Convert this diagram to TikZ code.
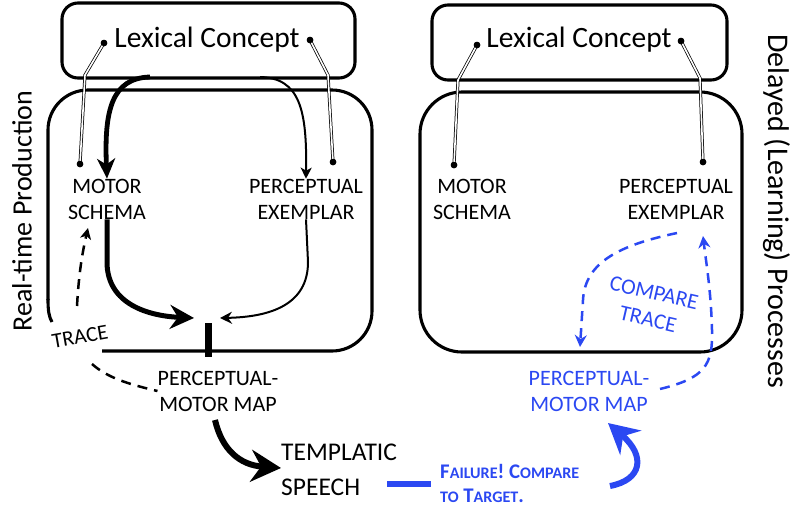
\documentclass[tikz,border=0pt]{standalone}
\usepackage{fontspec}
\setmainfont{Carlito}
\usetikzlibrary{arrows.meta}
\definecolor{myblue}{RGB}{43,72,242}
\newcommand\fakesc[1]{{\fontsize{16.1}{16.1}\selectfont #1}}
\tikzset{
  frame/.style={line width=3.1pt},
  dot/.style={circle,fill=black,inner sep=0pt,minimum size=6.5pt},
  dbl/.style={double,double distance=1.6pt,line width=0.75pt},
  lbl/.style={font=\fontsize{22}{26}\selectfont,align=center,inner sep=0pt},
  big/.style={font=\fontsize{29.5}{31}\selectfont,inner sep=0pt},
  dsh/.style={line width=2.5pt,dash pattern=on 10pt off 7pt},
}
\begin{document}
\begin{tikzpicture}[x=1pt,y=-1pt]
\useasboundingbox (0,0) rectangle (792,507);
% frames
\draw[frame,rounded corners=16pt] (62,3) rectangle (355,78);
\draw[frame,rounded corners=40pt] (102,351) -| (372,90) -| (48,300);
\draw[frame] (48,299) .. controls (48,311) and (49,317) .. (52,322);
\draw[frame,rounded corners=16pt] (432,5) rectangle (727,80);
\draw[frame,rounded corners=42pt] (420,92) rectangle (742,352);
% side labels
\node[big,rotate=90,font=\fontsize{28}{30}\selectfont] (rtp) at (22,211) {Real-time Production};
\node[big,rotate=-90,font=\fontsize{30}{32}\selectfont] (dlp) at (777,211) {Delayed (Learning) Processes};
% left texts
\node[big] (lc1) at (207,40) {Lexical Concept};
\node[lbl] (ms1) at (107,199) {MOTOR\\SCHEMA};
\node[lbl] (pe1) at (306,199) {PERCEPTUAL\\EXEMPLAR};
\node[lbl] (pm1) at (218,391) {PERCEPTUAL-\\MOTOR MAP};
\node[lbl,rotate=10,font=\fontsize{21.5}{24}\selectfont] (tr1) at (80,337) {TRACE};
\node[font=\fontsize{25.5}{35}\selectfont,align=left,anchor=west,inner sep=0pt] (ts) at (281,470) {TEMPLATIC\\SPEECH};
% right texts
\node[big] (lc2) at (579,40) {Lexical Concept};
\node[lbl] (ms2) at (472,199) {MOTOR\\SCHEMA};
\node[lbl] (pe2) at (676,199) {PERCEPTUAL\\EXEMPLAR};
\node[lbl,text=myblue] (pm2) at (589,391) {PERCEPTUAL-\\MOTOR MAP};
\node[lbl,text=myblue,rotate=-13,font=\fontsize{22}{27}\selectfont] (ct) at (651,306) {COMPARE\\TRACE};
\node[font=\bfseries\fontsize{20.8}{24}\selectfont,text=myblue,align=left,anchor=west,inner sep=0pt] (fl) at (440,483)
  {F\fakesc{AILURE}! C\fakesc{OMPARE}\\\fakesc{TO} T\fakesc{ARGET}.};
% dot coordinates left
\node[dot] (d1) at (104,43) {};
\coordinate (k1) at (85,75);
\node[dot] (d2) at (80,164) {};
\node[dot] (d3) at (310,40) {};
\coordinate (k2) at (328,75);
\node[dot] (d4) at (333,162) {};
\draw[dbl] (d1.center) -- (k1) -- (d2.center);
\draw[dbl] (d3.center) -- (k2) -- (d4.center);
\node[dot] at (104,43) {};\node[dot] at (80,164) {};\node[dot] at (310,40) {};\node[dot] at (333,162) {};
% dot coordinates right
\node[dot] (e1) at (477,45) {};
\coordinate (k3) at (458,80);
\node[dot] (e2) at (454,165) {};
\node[dot] (e3) at (681,41) {};
\coordinate (k4) at (700,78);
\node[dot] (e4) at (703,162) {};
\draw[dbl] (e1.center) -- (k3) -- (e2.center);
\draw[dbl] (e3.center) -- (k4) -- (e4.center);
\node[dot] at (477,45) {};\node[dot] at (454,165) {};\node[dot] at (681,41) {};\node[dot] at (703,162) {};
% left arrows
\coordinate (a1) at (150,77);
\coordinate (a2) at (260,77);
\draw[line width=4.8pt,-{Stealth[length=20pt,width=18pt,inset=6pt]}] (a1) .. controls (112,78) and (104,110) .. (ms1.north);
\draw[line width=2pt,-{Stealth[length=11pt,width=11pt,inset=3pt]}] (a2) .. controls (300,78) and (307,110) .. (pe1.north);
\coordinate (bt) at (208,323);
\coordinate (bb) at (208,357);
\draw[line width=7pt] (bt) -- (bb);
\coordinate (c1) at (194,318);
\coordinate (c2) at (220,318);
\draw[line width=5pt,-{Stealth[length=24pt,width=24pt,inset=8pt]}] (ms1.south) -- (107,262) .. controls (107,305) and (150,316) .. (c1);
\draw[line width=2pt,-{Stealth[length=12pt,width=12pt,inset=4pt]}] (pe1.south) -- (308,262) .. controls (308,305) and (270,317) .. (c2);
\coordinate (t1) at (77,306);
\coordinate (t2) at (88,228);
\draw[dsh,-{Stealth[length=11pt,width=11pt,inset=3pt]}] (t1) .. controls (79,270) and (83,250) .. (t2);
\coordinate (t3) at (92,364);
\draw[dsh] (t3) .. controls (108,378) and (128,384) .. (pm1.west);
\coordinate (g1) at (215,420);
\draw[line width=6pt,-{Stealth[length=30pt,width=32pt,inset=10pt]}] (g1) .. controls (222,450) and (240,465) .. (ts.west|-0,468);
% blue
\coordinate (h1) at (387,484);
\coordinate (h2) at (431,484);
\draw[myblue,line width=6pt] (h1) -- (h2);
\coordinate (i1) at (610,486);
\coordinate (i2) at (608,423);
\draw[myblue,line width=6pt,-{Stealth[length=30pt,width=32pt,inset=10pt]}] (i1) .. controls (642,480) and (646,456) .. (i2);
\coordinate (j1) at (660,389);
\coordinate (j2) at (703,236);
\draw[myblue,dsh,-{Stealth[length=12pt,width=12pt,inset=4pt]}] (j1) .. controls (705,378) and (713,365) .. (712,330) .. controls (711,290) and (706,262) .. (j2);
\coordinate (k5) at (677,233);
\coordinate (k6) at (580,347);
\draw[myblue,dsh,-{Stealth[length=12pt,width=12pt,inset=4pt]}] (k5) .. controls (620,245) and (585,262) .. (583,300) -- (k6);
\end{tikzpicture}
\end{document}
